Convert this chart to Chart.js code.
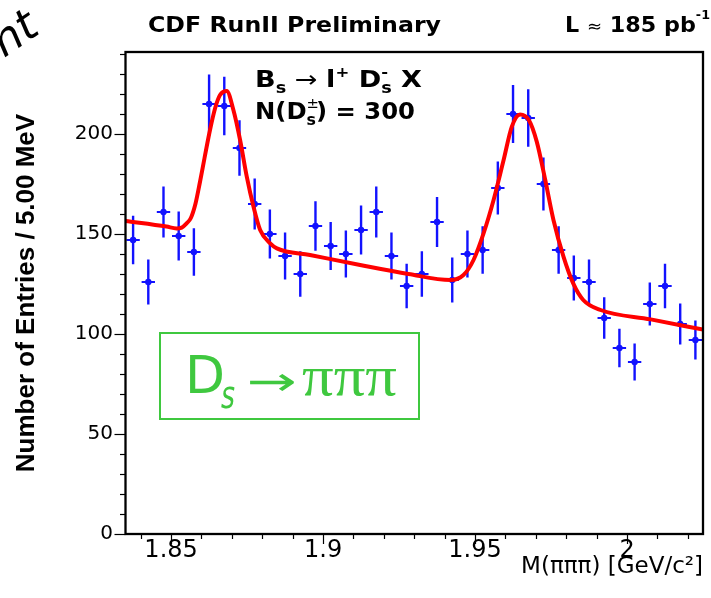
<!DOCTYPE html>
<html>
<head>
<meta charset="utf-8">
<script src="https://cdn.jsdelivr.net/npm/chart.js@4.4.0/dist/chart.umd.min.js"></script>
<style>
html,body{margin:0;padding:0;background:#ffffff;}
canvas{display:block;}
</style>
</head>
<body>
<canvas id="c" width="711" height="598"></canvas>
<script>
// ---- data ----
const binCenters = [1.8375,1.8425,1.8475,1.8525,1.8575,1.8625,1.8675,1.8725,1.8775,1.8825,
  1.8875,1.8925,1.8975,1.9025,1.9075,1.9125,1.9175,1.9225,1.9275,1.9325,
  1.9375,1.9425,1.9475,1.9525,1.9575,1.9625,1.9675,1.9725,1.9775,1.9825,
  1.9875,1.9925,1.9975,2.0025,2.0075,2.0125,2.0175,2.0225];
const entries = [147,126,161,149,141,215,214,193,165,150,
  139,130,154,144,140,152,161,139,124,130,
  156,127,140,142,173,210,208,175,142,128,
  126,108,93,86,115,124,105,97];
const entryErrors = [12.1,11.2,12.7,12.2,11.9,14.7,14.6,13.9,12.8,12.2,
  11.8,11.4,12.4,12.0,11.8,12.3,12.7,11.8,11.1,11.4,
  12.5,11.3,11.8,11.9,13.2,14.5,14.4,13.2,11.9,11.3,
  11.2,10.4,9.6,9.3,10.7,11.1,10.2,9.8];
const binHalfWidth = 0.0022;

const fitMass = [1.8350,1.8485,1.8518,1.8535,1.8551,1.8565,1.8580,1.8595,1.8610,1.8628,
  1.8645,1.8661,1.8683,1.8705,1.8727,1.8749,1.8771,1.8793,1.8826,1.8848,
  1.8957,1.9122,1.9281,1.9419,1.9462,1.9495,1.9528,1.9561,1.9594,1.9621,
  1.9648,1.9677,1.9703,1.9731,1.9758,1.9791,1.9823,1.9856,1.9913,2.0078,
  2.0250];
const fitValues = [156.5,153.7,152.8,153.2,155.3,158,165,176,188,202,
  213,219.5,221.5,212,197,178.7,163.7,152,145.3,142.8,
  139.5,134.5,130,127,129.5,137,150.3,167,187,203.7,
  209.8,207,196.2,177,157,138.7,125.3,117,112,107.3,
  102.2];

const xTickValues = [1.85, 1.9, 1.95, 2.0];
const xTickLabels = ['1.85', '1.9', '1.95', '2'];
const yTickValues = [0, 50, 100, 150, 200];
const yTickLabels = ['0', '50', '100', '150', '200'];

const xRange = [1.835, 2.025];
const yRange = [0, 241];

// ---- styles ----
const BLUE = 'rgb(18,18,255)';
const RED = '#ff0000';
const GREEN = '#3fc83f';

// draw a run of text segments squeezed/stretched to a target width
function fitText(ctx, segs, x, base, width, color) {
  let total = 0;
  const ws = segs.map(s => { ctx.font = s.f; return ctx.measureText(s.t).width; });
  segs.forEach((s, i) => { if (!s.noAdv) total += ws[i]; });
  ctx.save();
  ctx.fillStyle = color || '#000';
  ctx.textBaseline = 'alphabetic';
  ctx.textAlign = 'left';
  ctx.translate(x, base);
  ctx.scale(width / total, 1);
  let cx = 0;
  segs.forEach((s, i) => {
    ctx.font = s.f;
    ctx.fillText(s.t, cx, s.dy || 0);
    if (!s.noAdv) cx += ws[i];
  });
  ctx.restore();
}

const errorBars = {
  id: 'errorBars',
  beforeDatasetsDraw(chart) {
    const {ctx, scales: {x, y}, chartArea: a} = chart;
    ctx.save();
    ctx.beginPath();
    ctx.rect(a.left, a.top, a.right - a.left, a.bottom - a.top);
    ctx.clip();
    ctx.strokeStyle = BLUE;
    ctx.lineCap = 'butt';
    binCenters.forEach((m, i) => {
      const px = x.getPixelForValue(m);
      const py = y.getPixelForValue(entries[i]);
      ctx.lineWidth = 2.4;
      ctx.beginPath();
      ctx.moveTo(px, y.getPixelForValue(entries[i] - entryErrors[i]));
      ctx.lineTo(px, y.getPixelForValue(entries[i] + entryErrors[i]));
      ctx.stroke();
      ctx.lineWidth = 2;
      ctx.beginPath();
      ctx.moveTo(x.getPixelForValue(m - binHalfWidth), py);
      ctx.lineTo(x.getPixelForValue(m + binHalfWidth), py);
      ctx.stroke();
    });
    ctx.restore();
  }
};

const frameAndText = {
  id: 'frameAndText',
  afterDraw(chart) {
    const {ctx, scales: {x, y}, chartArea: a} = chart;
    ctx.save();
    // ticks
    ctx.strokeStyle = '#000';
    ctx.lineWidth = 1.2;
    for (let v = 0; v <= 240; v += 10) {
      const py = Math.round(y.getPixelForValue(v)) + 0.5;
      const len = (v % 50 === 0) ? 11 : 5.5;
      ctx.beginPath(); ctx.moveTo(a.left - len, py); ctx.lineTo(a.left, py); ctx.stroke();
    }
    for (let k = 184; k <= 202; k++) {
      const v = k / 100;
      const px = Math.round(x.getPixelForValue(v)) + 0.5;
      const len = (k % 5 === 0) ? 10 : 5;
      ctx.beginPath(); ctx.moveTo(px, a.bottom); ctx.lineTo(px, a.bottom + len); ctx.stroke();
    }
    // frame
    ctx.lineWidth = 2.3;
    ctx.strokeRect(a.left, a.top, a.right - a.left, a.bottom - a.top);
    ctx.restore();

    // header texts
    fitText(ctx, [{t: 'CDF RunII Preliminary', f: 'bold 21px "DejaVu Sans"'}], 148, 31.5, 293);
    fitText(ctx, [
      {t: 'L ', f: 'bold 21px "DejaVu Sans"'},
      {t: '\u2248', f: '17px "DejaVu Sans"'},
      {t: ' 185 pb', f: 'bold 21px "DejaVu Sans"'},
      {t: '-1', f: 'bold 12px "DejaVu Sans"', dy: -13}
    ], 565, 31.5, 145);

    // decay annotation
    fitText(ctx, [
      {t: 'B', f: 'bold 23px "DejaVu Sans"'},
      {t: 's', f: 'bold 15px "DejaVu Sans"', dy: 6},
      {t: ' \u2192 ', f: '23px "DejaVu Sans"'},
      {t: 'l', f: 'bold 23px "DejaVu Sans"'},
      {t: '+', f: 'bold 14px "DejaVu Sans"', dy: -10},
      {t: ' D', f: 'bold 23px "DejaVu Sans"'},
      {t: '-', f: 'bold 14px "DejaVu Sans"', dy: -10, noAdv: true},
      {t: 's', f: 'bold 15px "DejaVu Sans"', dy: 6},
      {t: ' X', f: 'bold 23px "DejaVu Sans"'}
    ], 255, 87, 167);
    fitText(ctx, [
      {t: 'N(D', f: 'bold 23px "DejaVu Sans"'},
      {t: '\u00b1', f: '14px "DejaVu Sans"', dy: -11, noAdv: true},
      {t: 's', f: 'bold 15px "DejaVu Sans"', dy: 6},
      {t: ') = 300', f: 'bold 23px "DejaVu Sans"'}
    ], 255, 119, 160);

    // green box
    ctx.save();
    ctx.strokeStyle = GREEN;
    ctx.lineWidth = 2;
    ctx.strokeRect(160, 333, 259, 86);
    ctx.restore();
    fitText(ctx, [{t: 'D', f: '51px "DejaVu Sans"'}], 185, 393, 40, GREEN);
    fitText(ctx, [{t: 's', f: 'italic 38px "DejaVu Sans"'}], 221, 408, 14, GREEN);
    fitText(ctx, [{t: '\u2192', f: '40px "DejaVu Sans"'}], 247, 395, 50, GREEN);
    fitText(ctx, [{t: '\u03c0\u03c0\u03c0', f: '58px "Liberation Serif"'}], 302, 395, 95, GREEN);

    // handwriting remnant at the top-left
    ctx.save();
    ctx.fillStyle = '#000';
    ctx.translate(4, 58);
    ctx.rotate(-0.6);
    ctx.font = 'italic 44px "DejaVu Sans"';
    ctx.fillText('nt', 0, 0);
    ctx.restore();
  }
};

new Chart(document.getElementById('c'), {
  type: 'scatter',
  data: {
    datasets: [
      {
        type: 'line',
        label: 'fit',
        data: fitMass.map((m, i) => ({x: m, y: fitValues[i]})),
        borderColor: RED,
        borderWidth: 4,
        pointRadius: 0,
        fill: false,
        cubicInterpolationMode: 'monotone',
        order: 0
      },
      {
        label: 'data',
        data: binCenters.map((m, i) => ({x: m, y: entries[i]})),
        backgroundColor: BLUE,
        borderWidth: 0,
        pointRadius: 3.2,
        order: 1
      }
    ]
  },
  options: {
    responsive: false,
    animation: false,
    devicePixelRatio: 1,
    layout: {padding: {top: 52, right: 8, left: 0, bottom: 0}},
    plugins: {legend: {display: false}, tooltip: {enabled: false}},
    scales: {
      x: {
        type: 'linear',
        min: xRange[0],
        max: xRange[1],
        grid: {display: false, drawTicks: false},
        border: {display: false},
        afterBuildTicks: s => { s.ticks = xTickValues.map(v => ({value: v})); },
        afterFit: s => { s.height = 64; },
        ticks: {
          color: '#000',
          padding: 2,
          maxRotation: 0,
          autoSkip: false,
          font: {family: '"DejaVu Sans"', size: 24},
          callback: (v, i) => xTickLabels[i]
        },
        title: {
          display: true,
          text: 'M(\u03c0\u03c0\u03c0) [GeV/c\u00b2]',
          align: 'end',
          color: '#000',
          font: {family: '"DejaVu Sans"', size: 23},
          padding: {top: 0, bottom: 17}
        }
      },
      y: {
        type: 'linear',
        min: yRange[0],
        max: yRange[1],
        grid: {display: false, drawTicks: false},
        border: {display: false},
        afterBuildTicks: s => { s.ticks = yTickValues.map(v => ({value: v})); },
        afterFit: s => { s.width = 125.5; },
        ticks: {
          color: '#000',
          padding: 12.5,
          autoSkip: false,
          font: {family: '"DejaVu Sans"', size: 20},
          callback: (v, i) => yTickLabels[i]
        },
        title: {
          display: true,
          text: 'Number of Entries / 5.00 MeV',
          color: '#000',
          font: {family: '"Liberation Sans", Arial, sans-serif', size: 26, weight: 'bold'},
          padding: {top: 11, bottom: 0}
        }
      }
    }
  },
  plugins: [errorBars, frameAndText]
});
</script>
</body>
</html>
